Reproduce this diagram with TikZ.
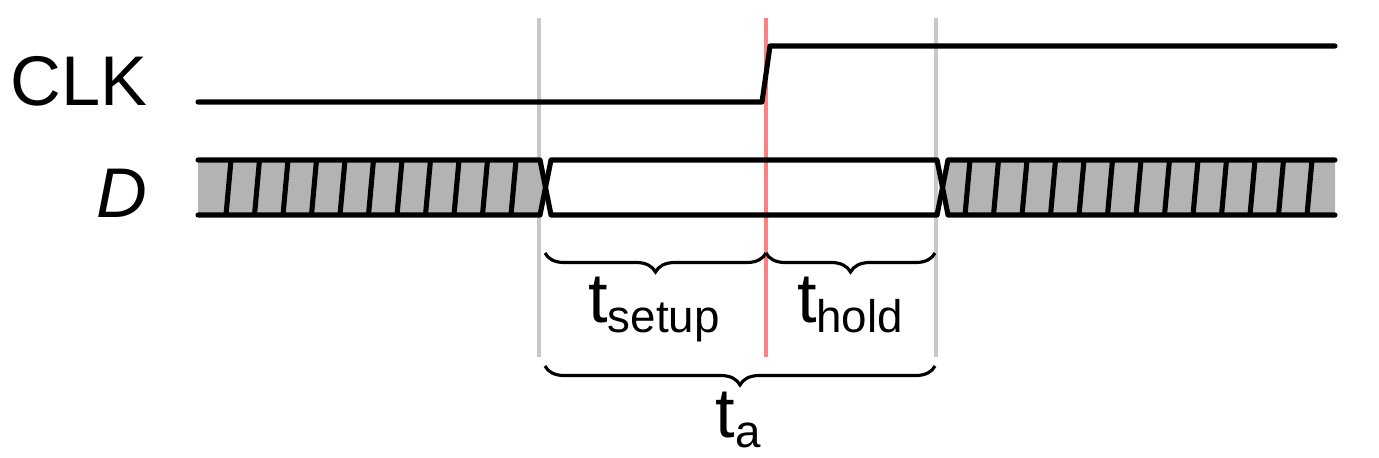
\documentclass[tikz,border=0pt]{standalone}
\usepackage{fontspec}
\setmainfont{Liberation Sans}
\usetikzlibrary{decorations.pathreplacing}
\definecolor{busgrey}{RGB}{179,179,179}
\definecolor{guidegrey}{RGB}{200,200,200}
\definecolor{clkred}{RGB}{255,128,128}
\tikzset{
  wave/.style={line width=1.45pt,line cap=round,line join=round},
  hatch/.style={line width=1.45pt},
  guide/.style={line width=1.15pt,guidegrey},
  edge/.style={line width=1.15pt,clkred},
  timebrace/.style={decorate,decoration={brace,mirror,amplitude=0.19cm},line width=0.9pt},
  lbl/.style={inner sep=0pt,anchor=base,font=\fontsize{20}{24}\selectfont}
}
\newcommand{\tsub}[1]{t\raisebox{-3pt}{\fontsize{13}{15}\selectfont #1}}

\begin{document}
\begin{tikzpicture}[x=0.01cm,y=-0.01cm]
\useasboundingbox (0,0) rectangle (1379,457);
% guide lines
\coordinate (Gs) at (539,18);
\coordinate (Gse) at (539,357);
\coordinate (Gh) at (936,18);
\coordinate (Ghe) at (936,357);
\coordinate (Ck) at (766,18);
\coordinate (Cke) at (766,357);
\draw[guide] (Gs) -- (Gse);
\draw[guide] (Gh) -- (Ghe);
\draw[edge] (Ck) -- (Cke);
% clock
\node[lbl,anchor=base west] (clk) at (10,105) {CLK};
\coordinate (C0) at (198,102);
\coordinate (C1) at (762,102);
\coordinate (C2) at (770,46);
\coordinate (C3) at (1335,46);
\draw[wave] (C0) -- (C1) -- (C2) -- (C3);
% data bus
\node[lbl,anchor=base west] (d) at (96,217) {\itshape D};
\fill[busgrey] (198,160) -- (540,160) -- (545.5,187.5) -- (540,215) -- (198,215) -- cycle;
\fill[busgrey] (1335,160) -- (948,160) -- (942.5,187.5) -- (948,215) -- (1335,215) -- cycle;
\foreach \i in {0,...,10}
  \draw[hatch] ({226+28.5*\i},215) -- ({231+28.5*\i},160);
\foreach \i in {0,...,12}
  \draw[hatch] ({965+28.5*\i},215) -- ({970+28.5*\i},160);
\draw[wave] (198,160) -- (540,160) -- (551,215) -- (937,215) -- (948,160) -- (1335,160);
\draw[wave] (198,215) -- (540,215) -- (551,160) -- (937,160) -- (948,215) -- (1335,215);
% braces
\coordinate (Bs) at (545,253);
\coordinate (Bm) at (766,253);
\coordinate (Bh) at (935,253);
\draw[timebrace] (Bs) -- (Bm);
\draw[timebrace] (Bm) -- (Bh);
\node[lbl] (tsu) at (654,322) {\tsub{setup}};
\node[lbl] (tho) at (850,322) {\tsub{hold}};
\coordinate (As) at (545,366);
\coordinate (Ae) at (935,366);
\draw[timebrace] (As) -- (Ae);
\node[lbl] (ta) at (738,437) {\tsub{a}};
\end{tikzpicture}
\end{document}
